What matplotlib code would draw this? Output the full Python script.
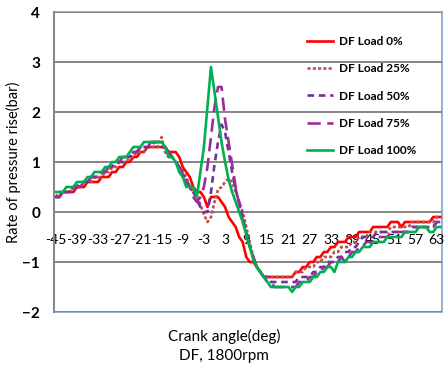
import matplotlib
matplotlib.use("Agg")
import matplotlib.pyplot as plt
from matplotlib.patches import Rectangle
import numpy as np

angles = list(range(-45, 65))
tick_labels = list(range(-45, 64, 6))

load_0 = [0.3, 0.3, 0.4, 0.4, 0.4, 0.4, 0.5, 0.5, 0.5, 0.6,
          0.6, 0.6, 0.6, 0.7, 0.7, 0.7, 0.8, 0.8, 0.9, 0.9,
          1.0, 1.0, 1.1, 1.1, 1.2, 1.2, 1.3, 1.3, 1.3, 1.3,
          1.3, 1.3, 1.2, 1.2, 1.2, 1.1, 0.9, 0.8, 0.7, 0.5,
          0.4, 0.4, 0.3, 0.1, 0.3, 0.3, 0.3, 0.2, 0.1, -0.1,
          -0.2, -0.3, -0.5, -0.6, -0.9, -1.0, -1.0, -1.1, -1.2, -1.3,
          -1.3, -1.3, -1.3, -1.3, -1.3, -1.3, -1.3, -1.3, -1.2, -1.2,
          -1.1, -1.1, -1.0, -1.0, -0.9, -0.9, -0.8, -0.8, -0.7, -0.7,
          -0.6, -0.6, -0.6, -0.5, -0.5, -0.5, -0.4, -0.4, -0.4, -0.4,
          -0.3, -0.3, -0.3, -0.3, -0.3, -0.2, -0.2, -0.2, -0.3, -0.2,
          -0.2, -0.2, -0.2, -0.2, -0.2, -0.2, -0.2, -0.1, -0.1, -0.1]

load_25 = [0.3, 0.4, 0.4, 0.4, 0.4, 0.5, 0.5, 0.5, 0.6, 0.6,
           0.6, 0.7, 0.7, 0.7, 0.8, 0.8, 0.9, 0.9, 1.0, 1.0,
           1.0, 1.1, 1.1, 1.2, 1.2, 1.2, 1.3, 1.3, 1.3, 1.3,
           1.5, 1.2, 1.1, 1.1, 1.0, 0.9, 0.8, 0.7, 0.5, 0.4,
           0.3, 0.15, -0.05, -0.2, -0.1, 0.2, 0.45, 0.5, 0.6, 0.67,
           0.6, 0.4, 0.2, 0.0, -0.3, -0.6, -0.9, -1.1, -1.2, -1.3,
           -1.3, -1.3, -1.3, -1.3, -1.3, -1.3, -1.3, -1.3, -1.2, -1.2,
           -1.2, -1.1, -1.1, -1.1, -1.0, -1.0, -0.9, -0.9, -0.9, -0.8,
           -0.8, -0.7, -0.7, -0.7, -0.6, -0.6, -0.5, -0.5, -0.5, -0.4,
           -0.4, -0.4, -0.4, -0.4, -0.4, -0.3, -0.3, -0.3, -0.3, -0.3,
           -0.3, -0.2, -0.2, -0.2, -0.2, -0.2, -0.2, -0.2, -0.1, -0.1]

load_50 = [0.3, 0.3, 0.4, 0.4, 0.4, 0.5, 0.5, 0.6, 0.6, 0.6,
           0.7, 0.7, 0.7, 0.8, 0.8, 0.9, 0.9, 1.0, 1.0, 1.0,
           1.1, 1.1, 1.2, 1.2, 1.3, 1.3, 1.3, 1.3, 1.4, 1.4,
           1.3, 1.3, 1.2, 1.1, 1.0, 0.9, 0.75, 0.65, 0.5, 0.4,
           0.25, 0.1, 0.0, 0.0, 0.4, 0.95, 1.4, 1.75, 1.6, 1.2,
           0.8, 0.45, 0.2, -0.1, -0.4, -0.7, -0.9, -1.1, -1.2, -1.3,
           -1.3, -1.4, -1.4, -1.4, -1.4, -1.4, -1.4, -1.4, -1.4, -1.3,
           -1.3, -1.3, -1.3, -1.2, -1.2, -1.1, -1.1, -1.0, -1.0, -1.0,
           -0.9, -0.9, -0.8, -0.8, -0.7, -0.7, -0.6, -0.5, -0.5, -0.5,
           -0.5, -0.4, -0.4, -0.4, -0.4, -0.4, -0.4, -0.4, -0.4, -0.4,
           -0.4, -0.3, -0.3, -0.3, -0.3, -0.3, -0.3, -0.3, -0.2, -0.2]

load_75 = [0.3, 0.3, 0.4, 0.4, 0.4, 0.5, 0.5, 0.5, 0.6, 0.6,
           0.7, 0.7, 0.7, 0.8, 0.8, 0.9, 0.9, 1.0, 1.0, 1.1,
           1.1, 1.1, 1.2, 1.2, 1.3, 1.3, 1.3, 1.4, 1.4, 1.4,
           1.3, 1.3, 1.2, 1.1, 1.0, 0.9, 0.8, 0.6, 0.5, 0.3,
           0.2, 0.3, 0.5, 0.9, 1.5, 2.1, 2.5, 2.5, 1.85, 1.4,
           0.95, 0.5, 0.15, -0.15, -0.45, -0.7, -0.9, -1.1, -1.2, -1.3,
           -1.4, -1.4, -1.5, -1.5, -1.5, -1.5, -1.5, -1.5, -1.5, -1.4,
           -1.4, -1.4, -1.3, -1.3, -1.2, -1.2, -1.1, -1.1, -1.0, -1.0,
           -1.0, -0.9, -1.0, -0.9, -0.8, -0.8, -0.7, -0.7, -0.6, -0.6,
           -0.6, -0.5, -0.5, -0.5, -0.5, -0.4, -0.4, -0.4, -0.4, -0.4,
           -0.4, -0.3, -0.3, -0.3, -0.3, -0.3, -0.3, -0.3, -0.2, -0.2]

load_100 = [0.4, 0.4, 0.4, 0.5, 0.5, 0.5, 0.6, 0.6, 0.6, 0.7,
            0.7, 0.8, 0.8, 0.8, 0.9, 0.9, 1.0, 1.0, 1.1, 1.1,
            1.1, 1.2, 1.3, 1.3, 1.3, 1.4, 1.4, 1.4, 1.4, 1.4,
            1.4, 1.3, 1.1, 1.1, 1.0, 0.8, 0.7, 0.5, 0.5, 0.5,
            0.3, 0.8, 1.3, 2.1, 2.9, 2.4, 1.9, 1.4, 1.0, 0.65,
            0.4, 0.2, 0.0, -0.2, -0.45, -0.7, -0.95, -1.1, -1.2, -1.3,
            -1.4, -1.5, -1.5, -1.5, -1.5, -1.5, -1.5, -1.6, -1.5, -1.5,
            -1.4, -1.4, -1.4, -1.3, -1.3, -1.2, -1.2, -1.1, -1.1, -1.2,
            -1.0, -1.0, -1.0, -0.9, -0.9, -0.8, -0.8, -0.7, -0.7, -0.7,
            -0.6, -0.6, -0.6, -0.6, -0.5, -0.5, -0.5, -0.5, -0.5, -0.4,
            -0.4, -0.4, -0.4, -0.3, -0.3, -0.3, -0.4, -0.4, -0.3, -0.3]

series_labels = ["DF Load 0%", "DF Load 25%", "DF Load 50%", "DF Load 75%", "DF Load 100%"]

plt.rcParams['font.family'] = ['Lato', 'DejaVu Sans']

fig = plt.figure(figsize=(4.48, 3.70), dpi=100)
ax = fig.add_axes([54/448, 1-312/370, 388/448, 300/370])

styles = [
    dict(color='#FF0000', linestyle='-'),
    dict(color='#C0504D', linestyle=(0, (1.2, 0.8))),
    dict(color='#7030A0', linestyle=(0, (2.5, 1.8))),
    dict(color='#9B2D9B', linestyle=(0, (5, 2.5))),
    dict(color='#00B050', linestyle='-'),
]
data = [load_0, load_25, load_50, load_75, load_100]
for vals, lab, st in zip(data, series_labels, styles):
    ax.plot(angles, vals, label=lab, lw=1.9, **st)

ax.set_xlim(-45.5, 64.5)
ax.set_ylim(-2, 4)
ax.set_yticks(range(-2, 5))
ax.yaxis.grid(True, color='#868686', lw=1.4)
ax.set_axisbelow(True)

ax.set_xticks(tick_labels)
ax.set_xticklabels([str(t) for t in tick_labels], fontsize=10.5)
ax.spines['bottom'].set_position(('data', 0))
ax.spines['bottom'].set_visible(False)
ax.tick_params(axis='x', length=0, pad=16)
ax.tick_params(axis='y', length=0, pad=10, labelsize=11)
for t in ax.get_yticklabels():
    t.set_fontweight('bold')
for s in ['top', 'right']:
    ax.spines[s].set_visible(False)
ax.spines['left'].set_color('#868686')
ax.spines['left'].set_linewidth(1.4)

border = Rectangle((0, 0), 1, 1, transform=ax.transAxes, fill=False,
                   edgecolor='#95B3D7', lw=1.5, clip_on=False, zorder=0.5)
ax.add_patch(border)
ax.spines['left'].set_zorder(3)

ax.set_ylabel('Rate of pressure rise(bar)', fontsize=10.5, labelpad=1)

fig.text(0.5, 1-336/370, 'Crank angle(deg)', ha='center', va='center', fontsize=11)
fig.text(0.5, 1-356/370, 'DF, 1800rpm', ha='center', va='center', fontsize=11)

leg = ax.legend(loc='upper left', bbox_to_anchor=((307-54)/388, (312-36)/300),
                frameon=False, fontsize=8.5, handlelength=2.2, handletextpad=0.5,
                labelspacing=1.38, borderpad=0, borderaxespad=0)
for t in leg.get_texts():
    t.set_fontweight('bold')

fig.savefig('out.png', dpi=100)
